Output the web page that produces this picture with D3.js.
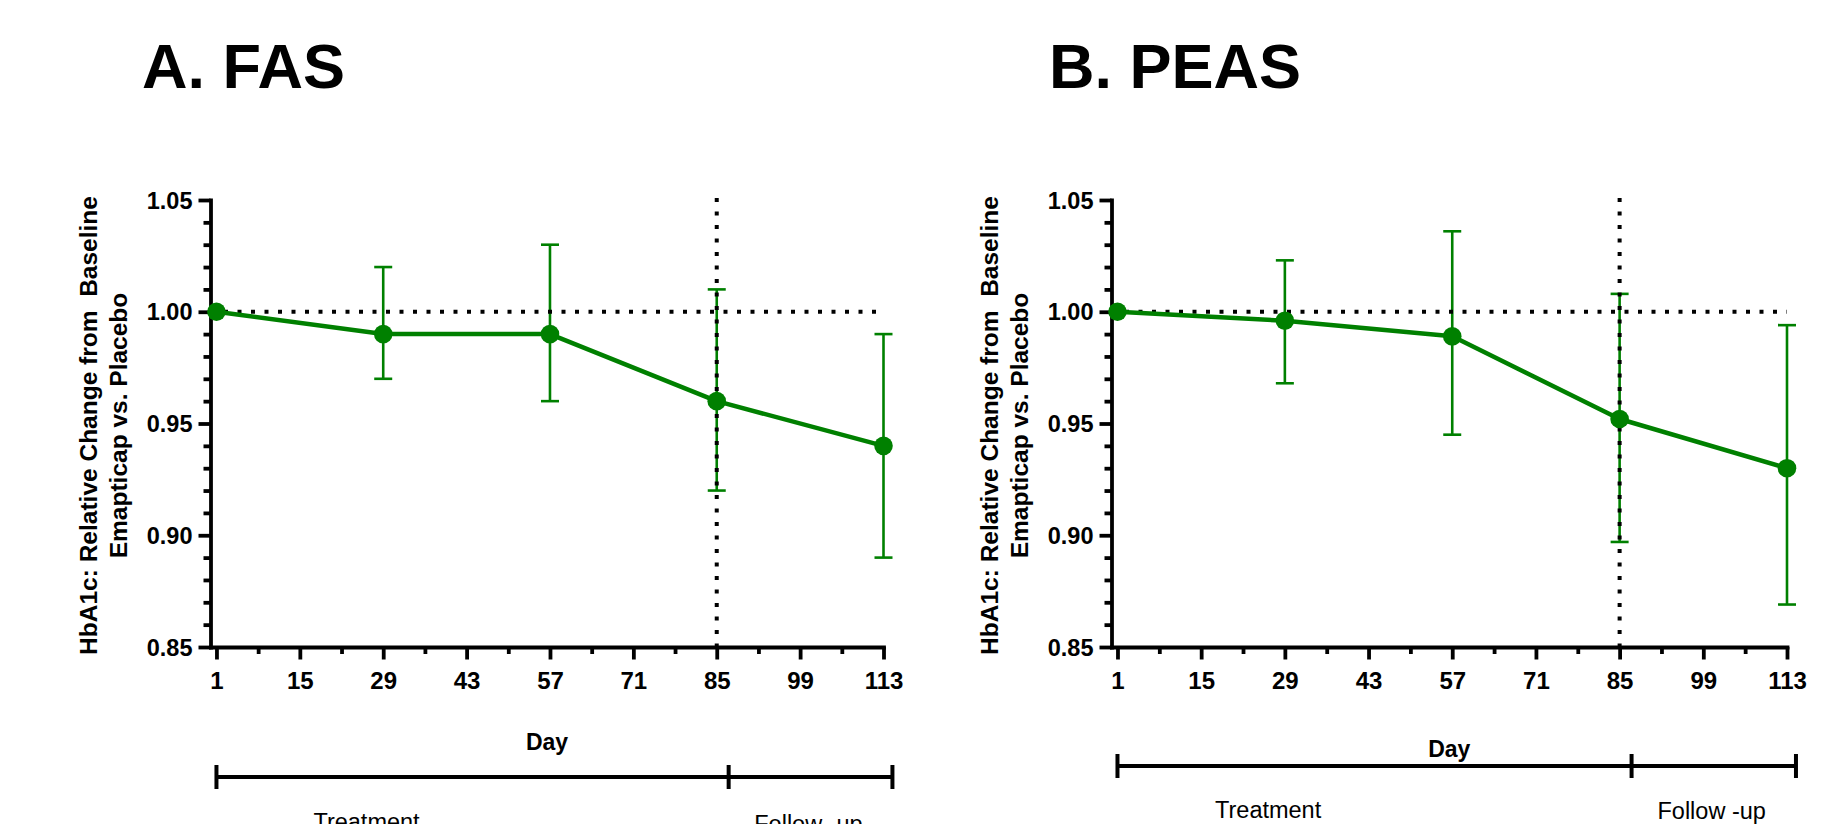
<!DOCTYPE html>
<html>
<head>
<meta charset="utf-8">
<script src="https://cdn.jsdelivr.net/npm/d3@7"></script>
<style>
  html, body { margin: 0; padding: 0; background: #ffffff; }
  svg { display: block; }
  text { font-family: "Liberation Sans", Arial, Helvetica, sans-serif; }
</style>
</head>
<body>
<svg id="chart" width="1821" height="824"></svg>
<script>
// ---------------- DATA ----------------
const days = [1, 29, 57, 85, 113];

const fasMean  = [1.000, 0.990, 0.990, 0.960, 0.940];
const fasLower = [1.000, 0.970, 0.960, 0.920, 0.890];
const fasUpper = [1.000, 1.020, 1.030, 1.010, 0.990];

const peasMean  = [1.000, 0.996, 0.989, 0.952, 0.930];
const peasLower = [1.000, 0.968, 0.945, 0.897, 0.869];
const peasUpper = [1.000, 1.023, 1.036, 1.008, 0.994];

const xTicks = [1, 15, 29, 43, 57, 71, 85, 99, 113];
const xMinorTicks = [8, 22, 36, 50, 64, 78, 92, 106];
const yTicks = [0.85, 0.90, 0.95, 1.00, 1.05];
const yMinorTicks = [0.86, 0.87, 0.88, 0.89, 0.91, 0.92, 0.93, 0.94,
                     0.96, 0.97, 0.98, 0.99, 1.01, 1.02, 1.03, 1.04];

const referenceValue = 1.00;   // horizontal dotted line
const endOfTreatmentDay = 85;  // vertical dotted line

const phaseBreaks = [1, 87, 114.5];            // bracket ends (days)
const phaseLabels = ["Treatment", "Follow -up"];
const phaseLabelDays = [26.2, 100.4];

const yLabelLines = ["HbA1c: Relative Change from  Baseline", "Emapticap vs. Placebo"];
const xLabel = "Day";

// ---------------- LAYOUT ----------------
const panels = [
  { title: "A. FAS", mean: fasMean, lower: fasLower, upper: fasUpper,
    xRange: [210.5, 883.5], titleX: 142, dayY: 750, bracketY: 777,
    phaseY: [829.5, 832] },
  { title: "B. PEAS", mean: peasMean, lower: peasLower, upper: peasUpper,
    xRange: [1111.5, 1787], titleX: 1049, dayY: 757, bracketY: 766,
    phaseY: [818, 819] }
];

const GREEN = "#008000";
const FONT = '"Liberation Sans", Arial, Helvetica, sans-serif';
const svg = d3.select("#chart");

panels.forEach(p => {
  const g = svg.append("g");
  const x = d3.scaleLinear().domain([0, 113]).range(p.xRange);
  const y = d3.scaleLinear().domain([0.85, 1.05]).range([647, 200]);
  const x0 = x(0);

  // Title
  g.append("text")
    .attr("x", p.titleX).attr("y", 88)
    .attr("font-size", 63).attr("font-weight", "bold")
    .attr("fill", "#000")
    .text(p.title);

  // Y axis label (two lines, rotated)
  yLabelLines.forEach((line, i) => {
    g.append("text")
      .attr("transform", `translate(${x0 - 114 + i * 30},${y(0.95) + 2}) rotate(-90)`)
      .attr("text-anchor", "middle")
      .attr("font-size", 24.5).attr("font-weight", "bold")
      .attr("fill", "#000")
      .style("white-space", "pre")
      .text(line);
  });

  // Error bars
  const pts = days.map((d, i) => ({ day: d, mean: p.mean[i], lo: p.lower[i], hi: p.upper[i] }));
  const eb = g.append("g").attr("stroke", GREEN).attr("stroke-width", 2.6).attr("fill", "none");
  pts.filter(d => d.hi > d.lo).forEach(d => {
    eb.append("line").attr("x1", x(d.day)).attr("x2", x(d.day))
      .attr("y1", y(d.hi)).attr("y2", y(d.lo));
    [d.hi, d.lo].forEach(v => {
      eb.append("line").attr("x1", x(d.day) - 9).attr("x2", x(d.day) + 9)
        .attr("y1", y(v)).attr("y2", y(v));
    });
  });

  // Dotted reference lines
  g.append("line")
    .attr("x1", x(0)).attr("x2", x(113))
    .attr("y1", y(referenceValue)).attr("y2", y(referenceValue))
    .attr("stroke", "#000").attr("stroke-width", 4)
    .attr("stroke-dasharray", "4 9.5");
  g.append("line")
    .attr("x1", x(endOfTreatmentDay)).attr("x2", x(endOfTreatmentDay))
    .attr("y1", y(1.05) - 2).attr("y2", y(0.85))
    .attr("stroke", "#000").attr("stroke-width", 4)
    .attr("stroke-dasharray", "4 9.5");

  // Axes
  const styleAxis = (sel, fs) => {
    sel.selectAll("path.domain").attr("stroke", "#000").attr("stroke-width", 3.8)
      .attr("stroke-linecap", "square");
    sel.selectAll(".tick line").attr("stroke", "#000").attr("stroke-width", 3.8);
    sel.selectAll(".tick text").attr("fill", "#000")
      .attr("font-size", fs).attr("font-weight", "bold").attr("font-family", FONT);
  };

  const xAxisG = g.append("g").attr("transform", `translate(0,${y(0.85)})`)
    .call(d3.axisBottom(x).tickValues(xTicks).tickSize(12.5).tickSizeOuter(0).tickPadding(10));
  styleAxis(xAxisG, 24);
  xAxisG.selectAll(".tick text").attr("y", 0).attr("dy", 0)
    .attr("transform", "translate(0,41.5)");
  const xMinorG = g.append("g").attr("transform", `translate(0,${y(0.85)})`)
    .call(d3.axisBottom(x).tickValues(xMinorTicks).tickSize(7).tickSizeOuter(0).tickFormat(""));
  styleAxis(xMinorG, 24);
  xMinorG.select("path.domain").remove();

  const yAxisG = g.append("g").attr("transform", `translate(${x0},0)`)
    .call(d3.axisLeft(y).tickValues(yTicks).tickSize(12).tickSizeOuter(0).tickPadding(6)
      .tickFormat(d3.format(".2f")));
  styleAxis(yAxisG, 23.5);
  yAxisG.selectAll(".tick text").attr("dy", "0.34em");
  const yMinorG = g.append("g").attr("transform", `translate(${x0},0)`)
    .call(d3.axisLeft(y).tickValues(yMinorTicks).tickSize(7).tickSizeOuter(0).tickFormat(""));
  styleAxis(yMinorG, 23.5);
  yMinorG.select("path.domain").remove();

  // Data line
  const lineGen = d3.line().x(d => x(d.day)).y(d => y(d.mean));
  g.append("path").datum(pts)
    .attr("d", lineGen)
    .attr("fill", "none").attr("stroke", GREEN).attr("stroke-width", 4.5)
    .attr("stroke-linejoin", "round");

  // Markers
  g.selectAll("circle.pt").data(pts).enter().append("circle")
    .attr("class", "pt")
    .attr("cx", d => x(d.day)).attr("cy", d => y(d.mean))
    .attr("r", 9.3).attr("fill", GREEN);

  // X axis title
  g.append("text")
    .attr("x", (p.xRange[0] + p.xRange[1]) / 2).attr("y", p.dayY)
    .attr("text-anchor", "middle")
    .attr("font-size", 23).attr("font-weight", "bold").attr("fill", "#000")
    .text(xLabel);

  // Phase bracket
  const br = g.append("g").attr("stroke", "#000").attr("stroke-width", 4);
  br.append("line")
    .attr("x1", x(phaseBreaks[0])).attr("x2", x(phaseBreaks[phaseBreaks.length - 1]))
    .attr("y1", p.bracketY).attr("y2", p.bracketY);
  phaseBreaks.forEach(d => {
    br.append("line").attr("x1", x(d)).attr("x2", x(d))
      .attr("y1", p.bracketY - 12).attr("y2", p.bracketY + 12);
  });
  phaseLabels.forEach((lab, i) => {
    g.append("text")
      .attr("x", x(phaseLabelDays[i])).attr("y", p.phaseY[i])
      .attr("text-anchor", "middle")
      .attr("font-size", 23.5).attr("fill", "#000")
      .style("white-space", "pre")
      .text(lab);
  });
});
</script>
</body>
</html>
